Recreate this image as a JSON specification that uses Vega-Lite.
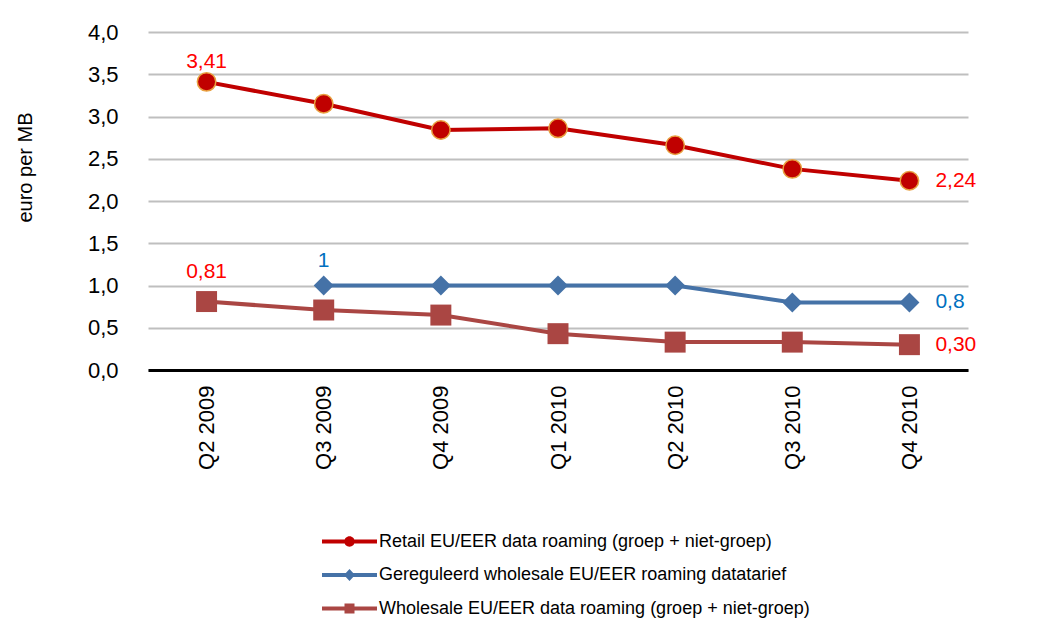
{
  "$schema": "https://vega.github.io/schema/vega-lite/v6.json",
  "width": 820,
  "height": 338,
  "autosize": {"type": "none"},
  "padding": {"left": 148, "top": 32, "right": 96, "bottom": 255},
  "background": "white",
  "config": {
    "locale": {"number": {"decimal": ",", "thousands": ".", "grouping": [3], "currency": ["€", ""]}},
    "view": {"stroke": null},
    "font": "Liberation Sans"
  },
  "data": {
    "values": [
      {"period": "Q2 2009", "series": "Retail EU/EER data roaming (groep + niet-groep)", "value": 3.41, "label": "3,41"},
      {"period": "Q3 2009", "series": "Retail EU/EER data roaming (groep + niet-groep)", "value": 3.15, "label": null},
      {"period": "Q4 2009", "series": "Retail EU/EER data roaming (groep + niet-groep)", "value": 2.84, "label": null},
      {"period": "Q1 2010", "series": "Retail EU/EER data roaming (groep + niet-groep)", "value": 2.86, "label": null},
      {"period": "Q2 2010", "series": "Retail EU/EER data roaming (groep + niet-groep)", "value": 2.66, "label": null},
      {"period": "Q3 2010", "series": "Retail EU/EER data roaming (groep + niet-groep)", "value": 2.38, "label": null},
      {"period": "Q4 2010", "series": "Retail EU/EER data roaming (groep + niet-groep)", "value": 2.24, "label": "2,24"},
      {"period": "Q3 2009", "series": "Gereguleerd wholesale EU/EER roaming datatarief", "value": 1.0, "label": "1"},
      {"period": "Q4 2009", "series": "Gereguleerd wholesale EU/EER roaming datatarief", "value": 1.0, "label": null},
      {"period": "Q1 2010", "series": "Gereguleerd wholesale EU/EER roaming datatarief", "value": 1.0, "label": null},
      {"period": "Q2 2010", "series": "Gereguleerd wholesale EU/EER roaming datatarief", "value": 1.0, "label": null},
      {"period": "Q3 2010", "series": "Gereguleerd wholesale EU/EER roaming datatarief", "value": 0.8, "label": null},
      {"period": "Q4 2010", "series": "Gereguleerd wholesale EU/EER roaming datatarief", "value": 0.8, "label": "0,8"},
      {"period": "Q2 2009", "series": "Wholesale EU/EER data roaming (groep + niet-groep)", "value": 0.81, "label": "0,81"},
      {"period": "Q3 2009", "series": "Wholesale EU/EER data roaming (groep + niet-groep)", "value": 0.71, "label": null},
      {"period": "Q4 2009", "series": "Wholesale EU/EER data roaming (groep + niet-groep)", "value": 0.65, "label": null},
      {"period": "Q1 2010", "series": "Wholesale EU/EER data roaming (groep + niet-groep)", "value": 0.43, "label": null},
      {"period": "Q2 2010", "series": "Wholesale EU/EER data roaming (groep + niet-groep)", "value": 0.33, "label": null},
      {"period": "Q3 2010", "series": "Wholesale EU/EER data roaming (groep + niet-groep)", "value": 0.33, "label": null},
      {"period": "Q4 2010", "series": "Wholesale EU/EER data roaming (groep + niet-groep)", "value": 0.30, "label": "0,30"}
    ]
  },
  "encoding": {
    "x": {
      "field": "period",
      "type": "ordinal",
      "scale": {"type": "point", "padding": 0.5, "domain": ["Q2 2009", "Q3 2009", "Q4 2009", "Q1 2010", "Q2 2010", "Q3 2010", "Q4 2010"]},
      "axis": {
        "title": null,
        "labelAngle": -90,
        "labelFontSize": 22,
        "labelColor": "#000000",
        "labelPadding": 15,
        "ticks": false,
        "grid": false,
        "domainColor": "#000000",
        "domainWidth": 3
      }
    },
    "y": {
      "field": "value",
      "type": "quantitative",
      "scale": {"domain": [0, 4], "nice": false},
      "axis": {
        "title": "euro per MB",
        "titleFontSize": 20,
        "titleFontWeight": "normal",
        "titleColor": "#000000",
        "titleAngle": 270,
        "titleAlign": "center",
        "titleBaseline": "bottom",
        "titleX": -113,
        "titleY": 135,
        "values": [0, 0.5, 1, 1.5, 2, 2.5, 3, 3.5, 4],
        "format": ".1f",
        "labelFontSize": 22,
        "labelColor": "#000000",
        "labelPadding": 30,
        "domain": false,
        "ticks": false,
        "grid": true,
        "gridColor": "#BFBFBF",
        "gridWidth": 2
      }
    }
  },
  "layer": [
    {
      "transform": [{"filter": "datum.series == 'Retail EU/EER data roaming (groep + niet-groep)'"}],
      "mark": {"type": "line", "color": "#C00000", "strokeWidth": 4}
    },
    {
      "transform": [{"filter": "datum.series == 'Gereguleerd wholesale EU/EER roaming datatarief'"}],
      "mark": {"type": "line", "color": "#4572A7", "strokeWidth": 4}
    },
    {
      "transform": [{"filter": "datum.series == 'Wholesale EU/EER data roaming (groep + niet-groep)'"}],
      "mark": {"type": "line", "color": "#AA4643", "strokeWidth": 4}
    },
    {
      "transform": [{"filter": "datum.series == 'Retail EU/EER data roaming (groep + niet-groep)'"}],
      "mark": {"type": "point", "shape": "circle", "filled": true, "fill": "#C00000", "stroke": "#E8A040", "strokeWidth": 1.5, "size": 340, "opacity": 1}
    },
    {
      "transform": [{"filter": "datum.series == 'Gereguleerd wholesale EU/EER roaming datatarief'"}],
      "mark": {"type": "point", "shape": "diamond", "filled": true, "fill": "#4572A7", "size": 400, "opacity": 1}
    },
    {
      "transform": [{"filter": "datum.series == 'Wholesale EU/EER data roaming (groep + niet-groep)'"}],
      "mark": {"type": "point", "shape": "square", "filled": true, "fill": "#AA4643", "size": 440, "opacity": 1}
    },
    {
      "mark": {"type": "point", "filled": true, "opacity": 0},
      "encoding": {
        "color": {
          "field": "series",
          "type": "nominal",
          "scale": {
            "domain": ["Retail EU/EER data roaming (groep + niet-groep)", "Gereguleerd wholesale EU/EER roaming datatarief", "Wholesale EU/EER data roaming (groep + niet-groep)"],
            "range": ["#C00000", "#4572A7", "#AA4643"]
          },
          "legend": {
            "orient": "none",
            "legendX": 174,
            "legendY": 499.5,
            "direction": "vertical",
            "title": null,
            "symbolSize": 400,
            "symbolStrokeWidth": 0,
            "symbolOpacity": 1,
            "labelFontSize": 18,
            "labelColor": "#000000",
            "labelOffset": 37,
            "labelLimit": 600,
            "rowPadding": 14.5
          }
        },
        "shape": {
          "field": "series",
          "type": "nominal",
          "scale": {
            "domain": ["Retail EU/EER data roaming (groep + niet-groep)", "Gereguleerd wholesale EU/EER roaming datatarief", "Wholesale EU/EER data roaming (groep + niet-groep)"],
            "range": [
              "M-1,-0.2H4.5V0.2H-1Z M2.27,0A0.52,0.52 0 1,1 1.23,0A0.52,0.52 0 1,1 2.27,0Z",
              "M-1,-0.2H4.5V0.2H-1Z M1.75,-0.6L2.3,0L1.75,0.6L1.2,0Z",
              "M-1,-0.2H4.5V0.2H-1Z M1.25,-0.5H2.25V0.5H1.25Z"
            ]
          },
          "legend": {
            "orient": "none",
            "legendX": 174,
            "legendY": 499.5,
            "direction": "vertical",
            "title": null,
            "symbolSize": 400,
            "symbolStrokeWidth": 0,
            "symbolOpacity": 1,
            "labelFontSize": 18,
            "labelColor": "#000000",
            "labelOffset": 37,
            "labelLimit": 600,
            "rowPadding": 14.5
          }
        }
      }
    },
    {
      "transform": [{"filter": "datum.series == 'Retail EU/EER data roaming (groep + niet-groep)' && datum.period == 'Q2 2009'"}],
      "mark": {"type": "text", "fontSize": 21, "color": "#FF0000", "dy": -20, "align": "center", "baseline": "middle"},
      "encoding": {"text": {"field": "label"}}
    },
    {
      "transform": [{"filter": "datum.series == 'Wholesale EU/EER data roaming (groep + niet-groep)' && datum.period == 'Q2 2009'"}],
      "mark": {"type": "text", "fontSize": 21, "color": "#FF0000", "dy": -30, "align": "center", "baseline": "middle"},
      "encoding": {"text": {"field": "label"}}
    },
    {
      "transform": [{"filter": "datum.series == 'Gereguleerd wholesale EU/EER roaming datatarief' && datum.period == 'Q3 2009'"}],
      "mark": {"type": "text", "fontSize": 21, "color": "#0070C0", "dy": -25, "align": "center", "baseline": "middle"},
      "encoding": {"text": {"field": "label"}}
    },
    {
      "transform": [{"filter": "datum.period == 'Q4 2010'"}],
      "mark": {"type": "text", "fontSize": 21, "dx": 26, "align": "left", "baseline": "middle"},
      "encoding": {
        "text": {"field": "label"},
        "color": {"condition": {"test": "datum.series == 'Gereguleerd wholesale EU/EER roaming datatarief'", "value": "#0070C0"}, "value": "#FF0000"}
      }
    }
  ]
}
